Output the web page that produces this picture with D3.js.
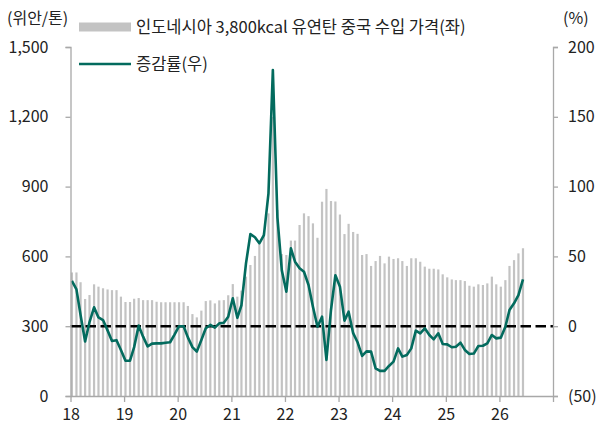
<!DOCTYPE html>
<html>
<head>
<meta charset="utf-8">
<script src="https://cdn.jsdelivr.net/npm/d3@7"></script>
<style>
    body { margin: 0; background: #fff; }
    #chart text { font-family: "Noto Sans CJK KR", "Noto Sans", sans-serif; fill: #222; }
</style>
</head>
<body>
<div id="chart"><svg></svg></div>
<script>
// monthly series, Jan 2018 .. Jun 2026
var startMonth = "2018-01";

// 인도네시아 3,800kcal 유연탄 중국 수입 가격 (위안/톤)
var prices = [
    531, 531, 489, 417, 434, 480, 470, 463, 458, 455, 455, 427,
    404, 404, 418, 421, 412, 412, 412, 405, 403, 403, 403, 403,
    403, 403, 387, 352, 338, 367, 408, 411, 398, 411, 412, 433,
    481, 427, 453, 513, 563, 602, 652, 700, 785, 1200, 800, 610,
    606, 668, 668, 735, 785, 773, 742, 680, 835, 890, 838, 836,
    780, 696, 740, 705, 697, 606, 610, 559, 580, 602, 570, 599,
    589, 592, 580, 559, 592, 592, 577, 556, 547, 547, 544, 523,
    510, 501, 498, 498, 494, 474, 470, 480, 477, 484, 513, 480,
    470, 498, 559, 584, 613, 635
];

// 증감률 (%)
var changes = [
    32.4, 26.4, 8, -11, 3, 13.5, 6.3, 4.4, -3, -10.6, -10, -17,
    -24.7, -24.7, -15, 0.4, -7.5, -14.5, -12.5, -12.3, -12.3, -11.8, -11.5, -6,
    0, 0, -8, -15, -18.2, -9.9, -1.5, 0.9, -1, 2, 2.5, 6.8,
    20, 6, 15, 45, 66, 63.7, 59.4, 65.3, 95, 183.5, 78, 40,
    24.7, 55.8, 46.2, 41.5, 39, 29.5, 14, -0.4, 6.8, -24.2, 11.6, 36.5,
    28.3, 4, 10.4, -5, -11.5, -21.3, -18, -18.2, -30.2, -32, -32, -28.5,
    -25.4, -15.9, -21.8, -20.6, -15.9, -3.2, -5.1, -1.5, -6.3, -9.4, -5.1, -12.7,
    -13, -15.1, -14.7, -11.8, -17, -19.9, -19.6, -14.2, -14, -12.3, -6.3, -8.7,
    -8.2, -0.4, 11.6, 16.4, 22.3, 33.6
];

var leftTicks = [0, 300, 600, 900, 1200, 1500];
var rightTicks = [-50, 0, 50, 100, 150, 200];
var yearTicks = [2018, 2019, 2020, 2021, 2022, 2023, 2024, 2025, 2026, 2027];
var yearLabels = ["18", "19", "20", "21", "22", "23", "24", "25", "26", ""];

var legendBar = "인도네시아 3,800kcal 유연탄 중국 수입 가격(좌)";
var legendLine = "증감률(우)";

var parseMonth = d3.timeParse("%Y-%m");
var first = parseMonth(startMonth);
var data = prices.map(function (p, i) {
    return { date: d3.timeMonth.offset(first, i), price: p, change: changes[i] };
});

var chartWidth = 600, chartHeight = 425;
var margin = { top: 47, right: 47, bottom: 29, left: 70.5 };

var svg = d3.select("#chart svg").attr("width", chartWidth).attr("height", chartHeight);

var x = d3.scaleTime()
    .domain([new Date(2018, 0, 1), new Date(2027, 0, 1)])
    .range([margin.left, chartWidth - margin.right]);

var yLeft = d3.scaleLinear().domain([0, 1500])
    .range([chartHeight - margin.bottom, margin.top]);

var yRight = d3.scaleLinear().domain([-50, 200])
    .range([chartHeight - margin.bottom, margin.top]);

var barColor = "#c3c3c3",
    lineColor = "#036b5e",
    axisColor = "#a8a8a8";

// bars
svg.append("g")
    .selectAll("rect")
    .data(data)
    .enter().append("rect")
    .attr("x", function (d) { return x(d.date) + 0.3; })
    .attr("width", 2.2)
    .attr("y", function (d) { return yLeft(d.price); })
    .attr("height", function (d) { return yLeft(0) - yLeft(d.price); })
    .attr("fill", barColor);

// zero line for the right axis
svg.append("line")
    .attr("x1", x.range()[0])
    .attr("x2", x.range()[1])
    .attr("y1", yRight(0))
    .attr("y2", yRight(0))
    .attr("stroke", "#000")
    .attr("stroke-width", 2.4)
    .attr("stroke-dasharray", "10.5,4.5");

// change line
var line = d3.line()
    .x(function (d) { return x(d.date) + 1.4; })
    .y(function (d) { return yRight(d.change); });

svg.append("path")
    .datum(data)
    .attr("d", line)
    .attr("fill", "none")
    .attr("stroke", lineColor)
    .attr("stroke-width", 2.6)
    .attr("stroke-linejoin", "round");

// axes
function styleAxis(g) {
    g.selectAll("path").attr("stroke", axisColor).attr("stroke-width", 1.3);
    g.selectAll("line").attr("stroke", axisColor).attr("stroke-width", 1.3);
    g.selectAll("text").style("font-size", "16px").attr("fill", "#222");
}

svg.append("g")
    .attr("transform", "translate(" + x.range()[0] + ",0)")
    .call(d3.axisLeft(yLeft).tickValues(leftTicks).tickSize(5).tickSizeOuter(5)
        .tickPadding(17).tickFormat(d3.format(",")))
    .call(styleAxis);

svg.append("g")
    .attr("transform", "translate(" + x.range()[1] + ",0)")
    .call(d3.axisRight(yRight).tickValues(rightTicks).tickSize(5).tickSizeOuter(5)
        .tickPadding(10)
        .tickFormat(function (d) { return d < 0 ? "(" + Math.abs(d) + ")" : d; }))
    .call(styleAxis);

svg.append("g")
    .attr("transform", "translate(0," + yLeft(0) + ")")
    .call(d3.axisBottom(x)
        .tickValues(yearTicks.map(function (y) { return new Date(y, 0, 1); }))
        .tickSize(6).tickSizeOuter(0).tickPadding(7)
        .tickFormat(function (d, i) { return yearLabels[i]; }))
    .call(styleAxis);

// unit labels
svg.append("text")
    .attr("x", 7).attr("y", 24)
    .style("font-size", "16px")
    .text("(위안/톤)");

svg.append("text")
    .attr("x", 563).attr("y", 24)
    .style("font-size", "16px")
    .text("(%)");

// legend
var legend = svg.append("g");

legend.append("rect")
    .attr("x", 79).attr("y", 22.5)
    .attr("width", 52).attr("height", 9)
    .attr("fill", barColor);

legend.append("text")
    .attr("x", 136).attr("y", 27)
    .attr("dy", "0.35em")
    .style("font-size", "16.5px")
    .text(legendBar);

legend.append("line")
    .attr("x1", 79).attr("x2", 131)
    .attr("y1", 64).attr("y2", 64)
    .attr("stroke", lineColor)
    .attr("stroke-width", 2.6);

legend.append("text")
    .attr("x", 136).attr("y", 64)
    .attr("dy", "0.35em")
    .style("font-size", "16.5px")
    .text(legendLine);
</script>
</body>
</html>
